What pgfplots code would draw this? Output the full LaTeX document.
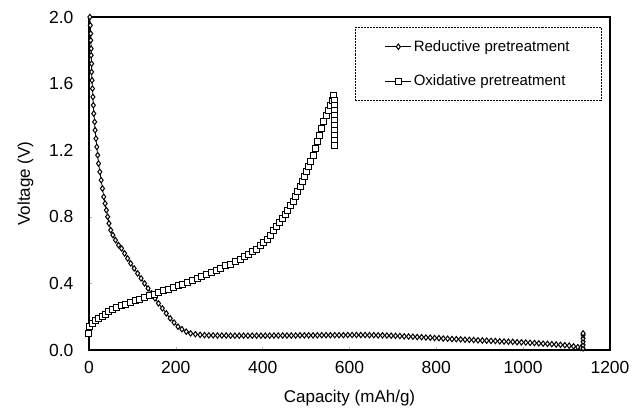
\documentclass[border=0pt]{standalone}
\usepackage{pgfplots}
\pgfplotsset{compat=1.18}
\usepackage{pgfplotstable}
\usepackage{fontspec}
\setmainfont{Liberation Sans}

% discharge curve, reductive pretreatment
\pgfplotstableread{
cap volt
2 2.00
3 1.95
4 1.90
4 1.86
5 1.81
5 1.77
6 1.72
6 1.67
7 1.62
8 1.57
9 1.52
10 1.47
11 1.42
13 1.37
14 1.32
16 1.27
18 1.22
20 1.17
22 1.12
25 1.07
28 1.02
31 0.97
34 0.92
37 0.88
40 0.84
43 0.80
46 0.76
50 0.72
55 0.69
61 0.66
68 0.63
75 0.61
82 0.58
89 0.55
96 0.52
104 0.49
112 0.46
120 0.43
128 0.40
136 0.37
144 0.34
152 0.31
160 0.28
169 0.25
178 0.22
187 0.19
196 0.165
205 0.14
214 0.125
224 0.11
234 0.10
245 0.095
256 0.091
266 0.089
276 0.088
286 0.088
296 0.087
306 0.087
316 0.087
326 0.086
336 0.086
346 0.086
356 0.086
366 0.086
376 0.086
386 0.086
396 0.086
406 0.086
416 0.086
426 0.087
436 0.087
446 0.087
456 0.087
466 0.087
476 0.087
486 0.088
496 0.088
506 0.088
516 0.088
526 0.088
536 0.089
546 0.089
556 0.089
566 0.089
576 0.089
586 0.089
596 0.090
606 0.090
616 0.090
626 0.090
636 0.090
646 0.089
656 0.089
666 0.088
676 0.088
686 0.087
696 0.086
706 0.085
716 0.084
726 0.082
736 0.081
746 0.080
756 0.078
766 0.077
776 0.075
786 0.074
796 0.072
806 0.071
816 0.069
826 0.068
836 0.066
846 0.065
856 0.064
866 0.062
876 0.061
886 0.060
896 0.058
906 0.057
916 0.056
926 0.055
936 0.054
946 0.052
956 0.051
966 0.050
976 0.049
986 0.047
996 0.046
1006 0.045
1016 0.043
1026 0.042
1036 0.040
1046 0.038
1056 0.037
1066 0.035
1076 0.033
1086 0.031
1096 0.029
1106 0.026
1116 0.022
1126 0.017
1133 0.012
1138 0.010
1138 0.030
1138 0.050
1138 0.070
1138 0.090
1138 0.100
}\reductive

% charge curve, oxidative pretreatment
\pgfplotstableread{
cap volt
0 0.10
2 0.14
8 0.16
15 0.175
22 0.19
30 0.20
38 0.215
46 0.23
55 0.245
64 0.255
74 0.265
84 0.275
95 0.285
106 0.295
117 0.305
128 0.315
139 0.325
150 0.335
161 0.345
172 0.355
183 0.365
194 0.375
205 0.385
216 0.395
227 0.405
238 0.42
249 0.43
260 0.44
271 0.455
282 0.465
293 0.48
304 0.49
315 0.505
326 0.515
337 0.53
348 0.545
358 0.56
368 0.575
377 0.59
386 0.605
394 0.625
402 0.645
410 0.665
418 0.69
425 0.715
432 0.74
439 0.765
446 0.79
452 0.815
458 0.84
464 0.865
470 0.89
476 0.92
481 0.95
486 0.98
491 1.01
496 1.04
501 1.07
506 1.10
511 1.13
516 1.17
521 1.21
526 1.25
531 1.29
536 1.33
541 1.37
546 1.41
551 1.44
556 1.47
560 1.50
564 1.53
565 1.50
565 1.47
565 1.44
565 1.41
565 1.38
565 1.35
565 1.32
565 1.29
565 1.26
565 1.23
}\oxidative

\begin{document}
\begin{tikzpicture}
\begin{axis}[
    name=ax,
    scale only axis,
    width=521bp, height=333bp,
    xmin=0, xmax=1200, ymin=0, ymax=2,
    xtick={0,200,400,600,800,1000,1200},
    ytick={0,0.4,0.8,1.2,1.6,2.0},
    xtick pos=bottom, ytick pos=left,
    tick align=inside,
    major tick length=3bp,
    tick style={gray!60, line width=0.4bp},
    axis line style={line width=1.8bp},
    /pgf/number format/assume math mode=true,
    /pgf/number format/1000 sep={},
    yticklabel style={xshift=-12bp,
        /pgf/number format/fixed,
        /pgf/number format/fixed zerofill,
        /pgf/number format/precision=1},
    xticklabel style={yshift=-8bp},
    tick label style={font=\fontsize{17.5bp}{20bp}\selectfont},
    label style={font=\fontsize{17bp}{20bp}\selectfont},
    xlabel={Capacity (mAh/g)},
    ylabel={Voltage (V)},
    xlabel style={at={(axis description cs:0.5,-0.144)}, anchor=center},
    ylabel style={at={(axis description cs:-0.122,0.5)}, anchor=center},
    legend cell align=left,
    legend image code/.code={
        \draw[mark repeat=2, mark phase=2] plot coordinates {(0bp,0bp) (13bp,0bp) (26bp,0bp)};
    },
    legend style={
        at={(0.51,0.969)}, anchor=north west,
        draw=black, densely dotted, line width=0.5bp,
        font=\fontsize{15bp}{18bp}\selectfont,
        inner xsep=30bp, inner ysep=11bp,
        row sep=18bp,
    },
]
\addplot[black, solid, line width=0.8bp, mark=diamond*, mark size=2.7bp,
    mark options={fill=white, solid, line width=1bp}]
    table[x=cap, y=volt]{\reductive};
\addlegendentry{Reductive pretreatment}
\addplot[black, solid, line width=0.8bp, mark=square*, mark size=3bp,
    mark options={fill=white, solid, line width=1bp}]
    table[x=cap, y=volt]{\oxidative};
\addlegendentry{Oxidative pretreatment}
\end{axis}
\pgfresetboundingbox
\path[use as bounding box] ([shift={(-89bp,-60bp)}]ax.south west) rectangle ([shift={(30bp,17bp)}]ax.north east);
\end{tikzpicture}
\end{document}
